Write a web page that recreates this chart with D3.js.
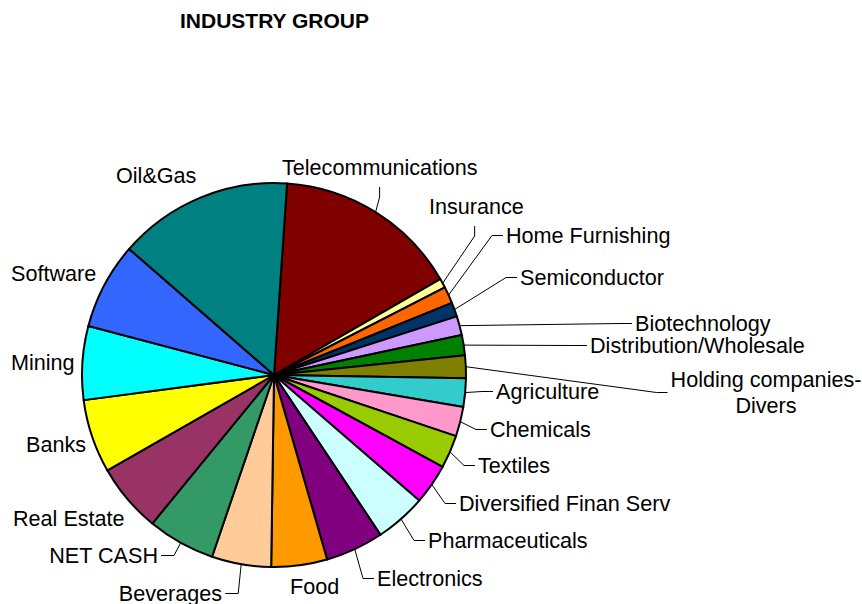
<!DOCTYPE html>
<html>
<head>
<meta charset="utf-8">
<script src="https://cdn.jsdelivr.net/npm/d3@7"></script>
<style>
  html, body { margin: 0; padding: 0; background: #fff; }
  svg text { font-family: "Liberation Sans", Arial, sans-serif; fill: #000; }
</style>
</head>
<body>
<svg id="chart" width="862" height="604"></svg>
<script>
// ---- data ----
const categories = ["Telecommunications", "Insurance", "Home Furnishing", "Semiconductor",
  "Biotechnology", "Distribution/Wholesale", "Holding companies-Divers", "Agriculture",
  "Chemicals", "Textiles", "Diversified Finan Serv", "Pharmaceuticals", "Electronics",
  "Food", "Beverages", "NET CASH", "Real Estate", "Banks", "Mining", "Software", "Oil&Gas"];
const values = [15.6, 0.8, 1.4, 1.2, 1.6, 1.7, 1.9, 2.4, 2.5, 2.8, 3.4, 4.3, 4.9,
  4.7, 5.0, 5.7, 5.8, 6.2, 6.2, 7.3, 14.7];
const colors = ["#800000", "#FFFF99", "#FF6600", "#003366", "#CC99FF", "#008000", "#808000",
  "#33CCCC", "#FF99CC", "#99CC00", "#FF00FF", "#CCFFFF", "#800080", "#FF9900", "#FFCC99",
  "#339966", "#993366", "#FFFF00", "#00FFFF", "#3366FF", "#008080"];
const title = "INDUSTRY GROUP";

// ---- label layout (text lines, anchor position, leader style) ----
const labelLines = [["Telecommunications"], ["Insurance"], ["Home Furnishing"], ["Semiconductor"],
  ["Biotechnology"], ["Distribution/Wholesale"], ["Holding companies-", "Divers"], ["Agriculture"],
  ["Chemicals"], ["Textiles"], ["Diversified Finan Serv"], ["Pharmaceuticals"], ["Electronics"],
  ["Food"], ["Beverages"], ["NET CASH"], ["Real Estate"], ["Banks"], ["Mining"], ["Software"], ["Oil&Gas"]];
const labelX = [282, 429, 506, 520, 635, 590, 766, 496, 490, 478, 459, 428, 377, 290, 222, 158, 13, 26, 11, 11, 116];
const labelY = [175, 214, 243, 285, 331, 353, 387, 399, 437, 473, 511, 548, 586, 594, 601, 563, 526, 452, 370, 281, 183];
const labelAnchor = ["start","start","start","start","start","start","middle","start","start","start","start",
  "start","start","start","end","end","start","start","start","start","start"];
const leaderType = ["v","v","h","h","h","h","h","h","h","h","h","h","h","none","h","h","none","none","none","none","none"];

const svg = d3.select("#chart");
const cx = 274, cy = 375, R = 192;
const FS = 21.6;
const start = 3.9 * Math.PI / 180;

svg.append("text").attr("x", 180).attr("y", 27.5)
  .attr("font-size", 21).attr("font-weight", "bold").text(title);

const data = categories.map((c, i) => ({ name: c, value: values[i], i }));
const pie = d3.pie().value(d => d.value).sort(null)
  .startAngle(start).endAngle(start + 2 * Math.PI);
const arcs = pie(data);
const arc = d3.arc().innerRadius(0).outerRadius(R);
const edgeArc = d3.arc().innerRadius(R).outerRadius(R);

const g = svg.append("g").attr("transform", `translate(${cx},${cy})`);
g.selectAll("path.slice").data(arcs).join("path")
  .attr("class", "slice")
  .attr("d", arc)
  .attr("fill", d => colors[d.data.i])
  .attr("stroke", "#000")
  .attr("stroke-width", 2)
  .attr("stroke-linejoin", "round");

// labels
const labelG = svg.append("g");
const leaderG = svg.append("g");
arcs.forEach(a => {
  const i = a.data.i;
  const t = labelG.append("text")
    .attr("x", labelX[i]).attr("y", labelY[i])
    .attr("font-size", FS)
    .attr("text-anchor", labelAnchor[i]);
  labelLines[i].forEach((ln, k) => {
    t.append("tspan").attr("x", labelX[i]).attr("dy", k === 0 ? 0 : 26).text(ln);
  });
  const bb = t.node().getBBox();
  const [px, py] = edgeArc.centroid(a);
  const sx = cx + px, sy = cy + py;
  let pts = null;
  if (leaderType[i] === "h") {
    const my = bb.y + bb.height / 2;
    if (labelAnchor[i] === "end") {
      const ex = bb.x + bb.width + 3;
      pts = [[sx, sy], [ex + 13, my], [ex, my]];
    } else {
      const ex = bb.x - 3;
      pts = [[sx, sy], [ex - 11, my], [ex, my]];
    }
  } else if (leaderType[i] === "v") {
    const ex = (i === 0) ? sx + 4 : sx + 32;
    const ey = labelY[i] + 12;
    pts = [[sx, sy], [ex, ey + 10], [ex, ey]];
  }
  if (pts) {
    leaderG.append("path")
      .attr("d", d3.line()(pts))
      .attr("fill", "none")
      .attr("stroke", "#000")
      .attr("stroke-width", 1);
  }
});
</script>
</body>
</html>
